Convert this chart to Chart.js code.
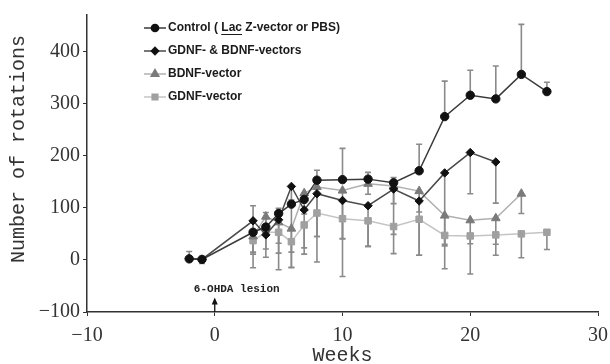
<!DOCTYPE html>
<html>
<head>
<meta charset="utf-8">
<script src="https://cdn.jsdelivr.net/npm/chart.js@4.4.1/dist/chart.umd.min.js"></script>
<style>
html,body{margin:0;padding:0;background:#fff;}
#wrap{width:610px;height:364px;position:relative;}
</style>
</head>
<body>
<div id="wrap"><canvas id="c" width="610" height="364"></canvas></div>
<script>
// ---- data ----
const xTicks = [-10, 0, 10, 20, 30];
const yTicks = [-100, 0, 100, 200, 300, 400];

const seriesNames = ['Control ( Lac Z-vector or PBS)', 'GDNF- & BDNF-vectors', 'BDNF-vector', 'GDNF-vector'];
const yTitle = 'Number of rotations';
const xTitle = 'Weeks';

const controlWeeks  = [-2, -1, 3, 4, 5, 6, 7, 8, 10, 12, 14, 16, 18, 20, 22, 24, 26];
const controlValues = [2, 1, 53, 63, 89, 107, 116, 153, 154, 155, 148, 171, 275, 316, 309, 356, 323];
const controlErrUp  = [14, 0, 51, 28, 10, 8, 8, 19, 60, 13, 10, 51, 68, 48, 63, 96, 18];

const dualWeeks   = [-2, -1, 3, 4, 5, 6, 7, 8, 10, 12, 14, 16, 18, 20, 22];
const dualValues  = [2, 1, 75, 48, 77, 141, 96, 127, 114, 104, 136, 113, 167, 206, 188];
const dualErrDown = [0, 8, 64, 27, 96, 156, 85, 131, 146, 78, 124, 104, 184, 79, 79];

const bdnfWeeks   = [3, 4, 5, 6, 7, 8, 10, 12, 14, 16, 18, 20, 22, 24];
const bdnfValues  = [45, 83, 72, 60, 128, 140, 133, 146, 142, 132, 85, 76, 80, 127];
const bdnfErrDown = [30, 30, 40, 45, 40, 95, 92, 20, 34, 40, 55, 45, 50, 38];

const gdnfWeeks   = [3, 4, 5, 6, 7, 8, 10, 12, 14, 16, 18, 20, 22, 24, 26];
const gdnfValues  = [37, 53, 53, 35, 67, 90, 79, 75, 64, 78, 47, 46, 48, 50, 53];
const gdnfErrDown = [52, 48, 40, 49, 44, 45, 39, 49, 15, 69, 20, 73, 39, 46, 33];

const lesionWeek = 0;
const lesionLabel = '6-OHDA lesion';

// ---- build ----
function pts(w, v) { return w.map((x, i) => ({ x: x, y: v[i] })); }

const errInfo = [
  { err: controlErrUp, dir: 1 },
  { err: dualErrDown, dir: -1 },
  { err: bdnfErrDown, dir: -1 },
  { err: gdnfErrDown, dir: -1 }
];

const styles = [
  { line: '#3a3a3a', fill: '#111', pt: 'circle', r: 4.2 },
  { line: '#4a4a4a', fill: '#111', pt: 'rectRot', r: 4.2 },
  { line: '#b0b0b0', fill: '#7a7a7a', pt: 'triangle', r: 5 },
  { line: '#c4c4c4', fill: '#a0a0a0', pt: 'rect', r: 4.6 }
];

const dataSets = [
  pts(controlWeeks, controlValues),
  pts(dualWeeks, dualValues),
  pts(bdnfWeeks, bdnfValues),
  pts(gdnfWeeks, gdnfValues)
];

const errorBars = {
  id: 'errorBars',
  beforeDatasetsDraw(chart) {
    const ctx = chart.ctx, xs = chart.scales.x, ys = chart.scales.y;
    ctx.save();
    ctx.strokeStyle = '#8a8a8a';
    ctx.lineWidth = 1.6;
    for (let d = 3; d >= 0; d--) {
      const data = chart.data.datasets[d].data;
      const e = errInfo[d];
      data.forEach((p, i) => {
        const m = e.err[i];
        if (!m) return;
        const x = xs.getPixelForValue(p.x);
        const y0 = ys.getPixelForValue(p.y);
        const y1 = ys.getPixelForValue(p.y + e.dir * m);
        ctx.beginPath();
        ctx.moveTo(x, y0); ctx.lineTo(x, y1);
        ctx.moveTo(x - 3, y1); ctx.lineTo(x + 3, y1);
        ctx.stroke();
      });
    }
    ctx.restore();
  }
};

const legendAndNote = {
  id: 'legendAndNote',
  afterDraw(chart) {
    const ctx = chart.ctx, xs = chart.scales.x, ys = chart.scales.y;
    ctx.save();
    // y title
    ctx.save();
    ctx.translate(19, 149);
    ctx.rotate(-Math.PI / 2);
    ctx.font = '20px "Liberation Mono", "DejaVu Sans Mono", monospace';
    ctx.fillStyle = '#333';
    ctx.textAlign = 'center';
    ctx.textBaseline = 'middle';
    ctx.fillText(yTitle, 0, 0);
    ctx.restore();
    // legend
    const rowsY = [28, 51, 74, 97];
    const lx0 = 144, lx1 = 166, mx = 155, tx = 168;
    ctx.font = 'bold 12px "Liberation Sans", Arial, sans-serif';
    ctx.textBaseline = 'middle';
    ctx.textAlign = 'left';
    seriesNames.forEach((name, i) => {
      const s = styles[i], y = rowsY[i];
      ctx.strokeStyle = s.line; ctx.lineWidth = 1.5;
      ctx.beginPath(); ctx.moveTo(lx0, y); ctx.lineTo(lx1, y); ctx.stroke();
      ctx.fillStyle = s.fill; ctx.strokeStyle = s.fill;
      Chart.helpers.drawPoint(ctx, { pointStyle: s.pt, radius: s.r - 0.6, borderWidth: 1 }, mx, y);
      ctx.fillStyle = '#1a1a1a';
      ctx.fillText(name, tx, y);
      if (i === 0) {
        const pre = 'Control ( ';
        const w0 = ctx.measureText(pre).width;
        const w1 = ctx.measureText('Lac').width;
        ctx.strokeStyle = '#1a1a1a'; ctx.lineWidth = 1;
        ctx.beginPath(); ctx.moveTo(tx + w0, y + 6.5); ctx.lineTo(tx + w0 + w1, y + 6.5); ctx.stroke();
      }
    });
    // lesion arrow + label
    const ax = xs.getPixelForValue(lesionWeek);
    const yb = ys.getPixelForValue(-100);
    const yt = ys.getPixelForValue(-74);
    ctx.strokeStyle = '#111'; ctx.fillStyle = '#111'; ctx.lineWidth = 1.3;
    ctx.beginPath(); ctx.moveTo(ax, yb); ctx.lineTo(ax, yt + 4); ctx.stroke();
    ctx.beginPath(); ctx.moveTo(ax, yt - 1); ctx.lineTo(ax - 3, yt + 6); ctx.lineTo(ax + 3, yt + 6); ctx.closePath(); ctx.fill();
    ctx.font = 'bold 11px "Liberation Mono", "DejaVu Sans Mono", monospace';
    ctx.textAlign = 'center';
    ctx.fillStyle = '#222';
    ctx.fillText(lesionLabel, ax + 22, yt - 9);
    ctx.restore();
  }
};

new Chart(document.getElementById('c'), {
  type: 'line',
  data: {
    datasets: dataSets.map((d, i) => ({
      label: seriesNames[i],
      data: d,
      borderColor: styles[i].line,
      borderWidth: 1.5,
      backgroundColor: styles[i].fill,
      pointBackgroundColor: styles[i].fill,
      pointBorderColor: styles[i].fill,
      pointStyle: styles[i].pt,
      pointRadius: styles[i].r,
      pointBorderWidth: 1,
      fill: false,
      tension: 0,
      order: i
    }))
  },
  options: {
    responsive: false,
    animation: false,
    devicePixelRatio: 1,
    layout: { padding: { top: 10, right: 0, left: 0, bottom: 0 } },
    plugins: { legend: { display: false }, tooltip: { enabled: false } },
    scales: {
      x: {
        type: 'linear', min: -10, max: 30,
        afterBuildTicks(s) { s.ticks = xTicks.map(v => ({ value: v })); },
        afterFit(s) { s.height = 52; s.paddingRight = 12; s.paddingLeft = 0; },
        grid: { display: true, drawOnChartArea: false, drawTicks: true, tickLength: 4, color: '#333' },
        border: { display: true, color: '#333', width: 1.5 },
        ticks: {
          color: '#333', padding: 8,
          font: { family: '"Liberation Serif", "Times New Roman", serif', size: 20 },
          callback: v => (v < 0 ? '\u2212' + Math.abs(v) : String(v))
        },
        title: {
          display: true, text: xTitle, color: '#333', padding: { top: 0, bottom: -4 },
          font: { family: '"Liberation Mono", "DejaVu Sans Mono", monospace', size: 20 }
        }
      },
      y: {
        type: 'linear', min: -100, max: 470,
        afterBuildTicks(s) { s.ticks = yTicks.map(v => ({ value: v })); },
        afterFit(s) { s.width = 87; },
        grid: { display: true, drawOnChartArea: false, drawTicks: true, tickLength: 4, color: '#333' },
        border: { display: true, color: '#333', width: 1.5 },
        ticks: {
          color: '#333', padding: 3,
          font: { family: '"Liberation Serif", "Times New Roman", serif', size: 20 },
          callback: v => (v < 0 ? '\u2212' + Math.abs(v) : String(v))
        },
        title: { display: false }
      }
    }
  },
  plugins: [errorBars, legendAndNote]
});
</script>
</body>
</html>
